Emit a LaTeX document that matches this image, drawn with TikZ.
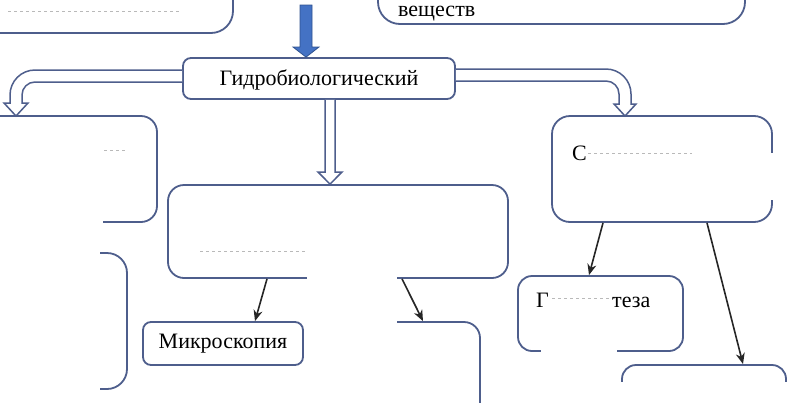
\documentclass[tikz,border=0pt]{standalone}
\usepackage{fontspec}
\setmainfont{Liberation Serif}
\usetikzlibrary{arrows.meta}
\definecolor{boxline}{RGB}{78,94,140}
\definecolor{bluefill}{RGB}{68,114,196}
\definecolor{blueedge}{RGB}{47,82,143}
\begin{document}
\begin{tikzpicture}[x=1pt,y=-1pt,
  boxstyle/.style={draw=boxline,line width=1.8pt,fill=white,rectangle,inner sep=0pt},
  hollow/.style={draw=boxline,line width=1.5pt,fill=white,line join=miter},
  patch/.style={fill=white,draw=none},
  conn/.style={draw=black!85,line width=1.6pt,-{Stealth[length=11pt,width=9pt]}},
  residue/.style={draw=gray!55,dashed,line width=0.7pt},
  label/.style={font=\fontsize{22}{24}\selectfont,inner sep=0pt}]
\useasboundingbox (0,0) rectangle (789,402);
\clip (0,0) rectangle (789,402);
% boxes
\node[boxstyle,rounded corners=22pt,minimum width=273pt,minimum height=73pt] (tl) at (96.5,-3.5) {};
\node[boxstyle,rounded corners=22pt,minimum width=367pt,minimum height=64pt] (tr) at (561.5,-8) {};
\node[boxstyle,rounded corners=8pt,minimum width=272pt,minimum height=41pt] (hyd) at (319,78.5) {};
\node[boxstyle,rounded corners=16pt,minimum width=187pt,minimum height=106pt] (lb) at (63.5,169) {};
\node[boxstyle,rounded corners=16pt,minimum width=340pt,minimum height=93pt] (mid) at (338,231.5) {};
\node[boxstyle,rounded corners=18pt,minimum width=220pt,minimum height=106pt] (rb) at (662,169) {};
\node[boxstyle,rounded corners=20pt,minimum width=157pt,minimum height=136pt] (brk) at (48.5,321) {};
\node[boxstyle,rounded corners=8pt,minimum width=160pt,minimum height=43pt] (mic) at (223,343.5) {};
\node[boxstyle,rounded corners=16pt,minimum width=170pt,minimum height=108pt] (bm) at (395,376) {};
\node[boxstyle,rounded corners=14pt,minimum width=165pt,minimum height=75pt] (gb) at (600.5,313.5) {};
\node[boxstyle,rounded corners=14pt,minimum width=164pt,minimum height=75pt] (br) at (704,402.5) {};
% erased regions
\fill[patch] (-5,125) rectangle (103,230);
\fill[patch] (307,240) rectangle (397,290);
\fill[patch] (700,153) rectangle (780,200);
\fill[patch] (-5,240) rectangle (100,405);
\fill[patch] (305,315) rectangle (397,405);
\fill[patch] (541,340) rectangle (617,360);
\fill[patch] (600,382) rectangle (795,405);
% residue of erased text
\draw[residue] (8,11) -- (180,11);
\draw[residue] (104,150) -- (126,150);
\draw[residue] (200,251) -- (307,251);
\draw[residue] (588,153) -- (692,153);
\draw[residue] (552,298) -- (616,298);
% thick blue arrow
\draw[fill=bluefill,draw=blueedge,line width=0.8pt] (300,5) -- (300,47) -- (293,47) -- ([xshift=-13pt]hyd.north) -- (319,47) -- (312,47) -- (312,5) -- cycle;
% hollow arrows
\draw[hollow] ([yshift=8.5pt]hyd.west) -- (35,70) .. controls (21.2,70) and (10,81.2) .. (10,95) -- (10,103) -- (4,103) -- (16,116) -- (28,103) -- (22,103) -- (22,95) .. controls (22,87.8) and (27.8,82) .. (35,82) -- ([yshift=-3.5pt]hyd.west);
\draw[hollow] ([yshift=9.5pt]hyd.east) -- (606,69) .. controls (619.8,69) and (631,80.2) .. (631,94) -- (631,104) -- (636,104) -- (625,116) -- (614,104) -- (619,104) -- (619,94) .. controls (619,86.8) and (613.2,81) .. (606,81) -- ([yshift=-2.5pt]hyd.east);
\draw[hollow] ([xshift=6pt]hyd.south) -- (325,172) -- (318,172) -- ([xshift=-8pt]mid.north) -- (342,172) -- (335,172) -- ([xshift=16pt]hyd.south);
% connectors
\draw[conn] ([xshift=-71pt]mid.south) -- ([xshift=32pt]mic.north);
\draw[conn] ([xshift=64pt]mid.south) -- ([xshift=28pt]bm.north);
\draw[conn] ([xshift=-59pt]rb.south) -- ([xshift=-11.5pt]gb.north);
\draw[conn] ([xshift=45pt]rb.south) -- ([xshift=39pt]br.north);
% texts
\node[label] (thyd) at ([yshift=-1pt]hyd.center) {Гидробиологический};
\node[label] (tmic) at (mic.center) {Микроскопия};
\node[label,anchor=base west] (tves) at (398,16) {веществ};
\node[label,anchor=base west] (tc) at (572,160) {С};
\node[label,anchor=base west] (tg) at (536,307) {Г};
\node[label,anchor=base west] (tteza) at (612,307) {теза};
\end{tikzpicture}
\end{document}
